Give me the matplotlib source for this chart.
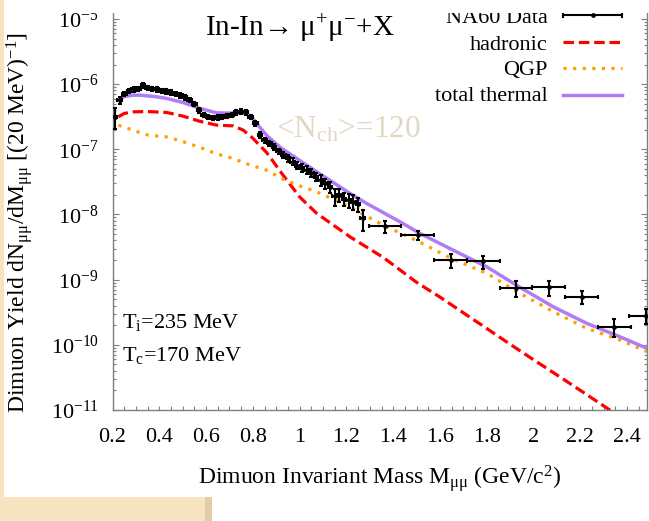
import numpy as np
import matplotlib
matplotlib.use("Agg")
import matplotlib.pyplot as plt
from matplotlib.ticker import FixedLocator, MultipleLocator, LogLocator, NullFormatter, FixedFormatter
from matplotlib.patches import Rectangle

plt.rcParams['font.family'] = ['Liberation Serif', 'DejaVu Serif']
plt.rcParams['mathtext.fontset'] = 'custom'
plt.rcParams['mathtext.rm'] = 'Liberation Serif'
plt.rcParams['mathtext.it'] = 'Liberation Serif:italic'
plt.rcParams['mathtext.bf'] = 'Liberation Serif:bold'

# ---------------- data ----------------
# total thermal (purple)
tot_x = [0.225, 0.25, 0.289, 0.32, 0.38, 0.432, 0.50, 0.574, 0.645, 0.70, 0.745, 0.773,
         0.80, 0.82, 0.86, 0.92, 1.0, 1.073, 1.215, 1.286, 1.429, 1.514, 1.656, 1.799,
         1.942, 2.084, 2.227, 2.369, 2.485]
tot_y = [5.69e-7, 6.46e-7, 6.78e-7, 6.76e-7, 6.46e-7, 6.04e-7, 5.25e-7, 4.24e-7, 3.63e-7,
         3.59e-7, 3.63e-7, 3.51e-7, 2.95e-7, 2.40e-7, 1.62e-7, 1.05e-7, 6.76e-8, 4.52e-8,
         2.11e-8, 1.48e-8, 7.73e-9, 5.13e-9, 2.84e-9, 1.58e-9, 7.62e-10, 3.84e-10,
         2.14e-10, 1.33e-10, 8.83e-11]

# QGP (orange)
qgp_x = [0.225, 0.25, 0.289, 0.35, 0.432, 0.50, 0.574, 0.645, 0.716, 0.788, 0.859, 0.93,
         1.0, 1.073, 1.215, 1.357, 1.50, 1.65, 1.80, 1.942, 2.084, 2.227, 2.369, 2.485]
qgp_y = [2.34e-7, 2.19e-7, 1.95e-7, 1.66e-7, 1.55e-7, 1.32e-7, 1.07e-7, 8.51e-8, 7.24e-8,
         5.75e-8, 4.79e-8, 3.47e-8, 2.75e-8, 2.23e-8, 1.31e-8, 6.87e-9, 3.98e-9, 2.11e-9,
         1.25e-9, 6.17e-10, 3.24e-10, 1.79e-10, 1.19e-10, 7.83e-11]

# hadronic (red)
had_x = [0.225, 0.25, 0.289, 0.35, 0.432, 0.50, 0.574, 0.645, 0.716, 0.759, 0.80, 0.859,
         0.93, 1.0, 1.073, 1.215, 1.357, 1.50, 1.60, 1.70, 1.80, 1.90, 2.00, 2.10, 2.20,
         2.326, 2.36]
had_y = [3.16e-7, 3.55e-7, 3.76e-7, 3.80e-7, 3.68e-7, 3.24e-7, 2.69e-7, 2.35e-7, 2.29e-7,
         1.97e-7, 1.48e-7, 8.91e-8, 3.98e-8, 1.86e-8, 1.04e-8, 4.55e-9, 2.20e-9, 9.1e-10,
         5.4e-10, 3.1e-10, 1.78e-10, 1.02e-10, 5.9e-11, 3.45e-11, 2.0e-11, 1.0e-11,
         8.2e-12]

# NA60 data, fine bins (20 MeV)
na60_x = [0.21, 0.23, 0.25, 0.27, 0.29, 0.31, 0.33, 0.35, 0.37, 0.39, 0.41, 0.43, 0.45,
          0.47, 0.49, 0.51, 0.53, 0.55, 0.57, 0.59, 0.61, 0.63, 0.65, 0.67, 0.69, 0.71,
          0.73, 0.75, 0.77, 0.79, 0.81, 0.83, 0.85, 0.87, 0.89, 0.91, 0.93, 0.95, 0.97,
          0.99, 1.01, 1.03, 1.05, 1.07, 1.09, 1.11, 1.13, 1.15, 1.17, 1.19, 1.21, 1.23,
          1.25, 1.27]
na60_y = [3.16e-7, 5.62e-7, 7.08e-7, 7.94e-7, 8.32e-7, 8.51e-7, 9.55e-7, 8.71e-7, 8.51e-7,
          8.32e-7, 7.94e-7, 7.76e-7, 7.41e-7, 7.08e-7, 6.76e-7, 6.31e-7, 5.75e-7, 5.01e-7,
          3.98e-7, 3.39e-7, 3.16e-7, 3.02e-7, 3.09e-7, 3.16e-7, 3.24e-7, 3.39e-7, 3.72e-7,
          3.80e-7, 3.72e-7, 3.16e-7, 2.51e-7, 1.66e-7, 1.38e-7, 1.23e-7, 1.10e-7, 9.33e-8,
          8.32e-8, 7.24e-8, 6.46e-8, 5.62e-8, 5.25e-8, 4.79e-8, 4.37e-8, 3.80e-8, 3.39e-8,
          3.02e-8, 2.63e-8, 1.91e-8, 2.00e-8, 1.74e-8, 1.66e-8, 1.58e-8, 1.45e-8, 8.71e-9]
na60_rel = [0.35, 0.12, 0.08, 0.08, 0.08, 0.08, 0.08, 0.08, 0.08, 0.08, 0.08, 0.08, 0.08,
            0.08, 0.08, 0.08, 0.08, 0.08, 0.08, 0.08, 0.08, 0.08, 0.08, 0.08, 0.08, 0.08,
            0.08, 0.08, 0.08, 0.08, 0.10, 0.10, 0.10, 0.10, 0.10, 0.10, 0.10, 0.12, 0.12,
            0.12, 0.14, 0.14, 0.15, 0.15, 0.18, 0.18, 0.2, 0.3, 0.22, 0.22, 0.25, 0.25,
            0.25, 0.35]
na60_xhalf = 0.01

# NA60 data, wide bins
wide_x = [1.365, 1.505, 1.645, 1.785, 1.925, 2.065, 2.205, 2.345, 2.48]
wide_y = [6.6e-9, 4.8e-9, 2.0e-9, 1.9e-9, 7.4e-10, 7.6e-10, 5.4e-10, 1.9e-10, 2.8e-10]
wide_rel = [0.2, 0.15, 0.25, 0.22, 0.28, 0.25, 0.22, 0.3, 0.25]
wide_xhalf = 0.07

xticks = [0.2, 0.4, 0.6, 0.8, 1.0, 1.2, 1.4, 1.6, 1.8, 2.0, 2.2, 2.4]
xtick_labels = ['0.2', '0.4', '0.6', '0.8', '1', '1.2', '1.4', '1.6', '1.8', '2', '2.2', '2.4']

# ---------------- figure ----------------
W, H = 649, 521
fig = plt.figure(figsize=(W / 100, H / 100), dpi=100)
ax_l, ax_r, ax_b, ax_t = 112.5, 647, 410, 13
ax = fig.add_axes([ax_l / W, (H - ax_b) / H, (ax_r - ax_l) / W, (ax_b - ax_t) / H])
ax.set_yscale('log')
ax.set_xlim(0.2, 2.485)
ax.set_ylim(1e-11, 1.236e-5)

red = '#ff0000'
orange = '#ffa000'
purple = '#b07cf6'

ax.plot(had_x, had_y, color=red, lw=2.3, dashes=(3.3, 1.5), zorder=3)
ax.plot(qgp_x, qgp_y, color=orange, lw=2.3, dashes=(1.0, 2.0), zorder=3)
ax.plot(tot_x, tot_y, color=purple, lw=2.5, zorder=4)

ek = dict(fmt='o', ms=2.4, color='black', ecolor='black', elinewidth=1.5,
          capsize=1.7, capthick=1.5, zorder=5)
na_y = np.array(na60_y)
ax.errorbar(na60_x, na_y, xerr=na60_xhalf, yerr=na_y * np.array(na60_rel), **ek)
wd_y = np.array(wide_y)
ax.errorbar(wide_x, wd_y, xerr=wide_xhalf, yerr=wd_y * np.array(wide_rel), **ek)

# axes styling
gray = '#7f7f7f'
for s in ['left', 'right', 'bottom']:
    ax.spines[s].set_color(gray)
    ax.spines[s].set_linewidth(1.0)
ax.spines['top'].set_visible(False)

ax.xaxis.set_major_locator(FixedLocator(xticks))
ax.xaxis.set_major_formatter(FixedFormatter(xtick_labels))
ax.xaxis.set_minor_locator(MultipleLocator(0.05))
ax.yaxis.set_major_locator(LogLocator(base=10, numticks=20))
ax.yaxis.set_minor_locator(LogLocator(base=10, subs=np.arange(2, 10), numticks=20))
ax.yaxis.set_minor_formatter(NullFormatter())

ax.tick_params(axis='x', which='both', direction='in', top=False, bottom=True,
               length=3, width=0.8, color=gray, labelsize=16, pad=13)
ax.tick_params(axis='y', which='major', direction='in', left=True, right=True,
               length=4, width=0.8, color=gray, labelsize=16, pad=10)
ax.tick_params(axis='y', which='minor', direction='in', left=True, right=True,
               length=2.5, width=0.8, color=gray)

# labels
fig.text(20 / W, (H - 413) / H,
         'Dimuon Yield dN$_{\\mathrm{μμ}}$/dM$_{\\mathrm{μμ}}$ [(20 MeV)$^{-1}$]',
         rotation=90, ha='center', va='bottom', fontsize=17.0)
fig.text(380 / W, (H - 478) / H,
         'Dimuon Invariant Mass M$_{\\mathrm{μμ}}$ (GeV/c$^{2}$)',
         ha='center', va='center', fontsize=17)

def ax_pt(px, py):
    return ((px - ax_l) / (ax_r - ax_l), (ax_b - py) / (ax_b - ax_t))

tx, ty = ax_pt(300, 28)
ax.text(tx, ty, 'In-In→ μ$^{+}$μ$^{-}$+X', transform=ax.transAxes,
        ha='center', va='center', fontsize=21, clip_on=False)
tx, ty = ax_pt(276, 130)
ax.text(tx, ty, '<N$_{\\mathrm{ch}}$>=120', transform=ax.transAxes,
        ha='left', va='center', fontsize=22.5, color='#e2d8c2', zorder=2)
tx, ty = ax_pt(122, 328)
ax.text(tx, ty, 'T$_{\\mathrm{i}}$=235 MeV', transform=ax.transAxes,
        ha='left', va='baseline', fontsize=16)
tx, ty = ax_pt(122, 361)
ax.text(tx, ty, 'T$_{\\mathrm{c}}$=170 MeV', transform=ax.transAxes,
        ha='left', va='baseline', fontsize=16)

# legend (gnuplot style: right-aligned text, sample to the right)
leg_labels = ['NA60 Data', 'hadronic', 'QGP', 'total thermal']
leg_base = [23, 50, 75, 101.5]
leg_line = [15, 42, 68, 95]
lx0, _ = ax_pt(563, 0)
lx1, _ = ax_pt(622, 0)
txr, _ = ax_pt(548, 0)
for i, lab in enumerate(leg_labels):
    _, yb = ax_pt(0, leg_base[i])
    ax.text(txr, yb, lab, transform=ax.transAxes, ha='right', va='baseline',
            fontsize=16, clip_on=False)
    _, yl = ax_pt(0, leg_line[i])
    if i == 0:
        ax.plot([lx0, lx1], [yl, yl], transform=ax.transAxes, color='black', lw=1.5,
                clip_on=False)
        dy = 2.0 / (ax_b - ax_t)
        for xx in (lx0, lx1):
            ax.plot([xx, xx], [yl - dy, yl + dy], transform=ax.transAxes, color='black',
                    lw=1.5, clip_on=False)
        ax.plot([(lx0 + lx1) / 2], [yl], 'o', ms=2.4, color='black',
                transform=ax.transAxes, clip_on=False)
    elif i == 1:
        ax.plot([lx0, lx1], [yl, yl], transform=ax.transAxes, color=red, lw=2.3,
                dashes=(3.3, 1.5), clip_on=False)
    elif i == 2:
        ax.plot([lx0, lx1], [yl, yl], transform=ax.transAxes, color=orange, lw=2.3,
                dashes=(1.0, 2.0), clip_on=False)
    else:
        ax.plot([lx0, lx1], [yl, yl], transform=ax.transAxes, color=purple, lw=2.5,
                clip_on=False)

# screenshot surroundings
fig.patches.append(Rectangle((50 / W, 1 - 13 / H), 1, 13 / H, transform=fig.transFigure,
                             facecolor='white', edgecolor='none', zorder=10))
fig.patches.append(Rectangle((0, 0), 4 / W, 1, transform=fig.transFigure,
                             facecolor='#f6e3bf', edgecolor='none', zorder=11))
fig.patches.append(Rectangle((0, 0), 212 / W, 24 / H, transform=fig.transFigure,
                             facecolor='#f6e3bf', edgecolor='none', zorder=11))
fig.patches.append(Rectangle((205 / W, 0), 7 / W, 24 / H, transform=fig.transFigure,
                             facecolor='#e3cda4', edgecolor='none', zorder=11))

fig.savefig('out.png', dpi=100)
